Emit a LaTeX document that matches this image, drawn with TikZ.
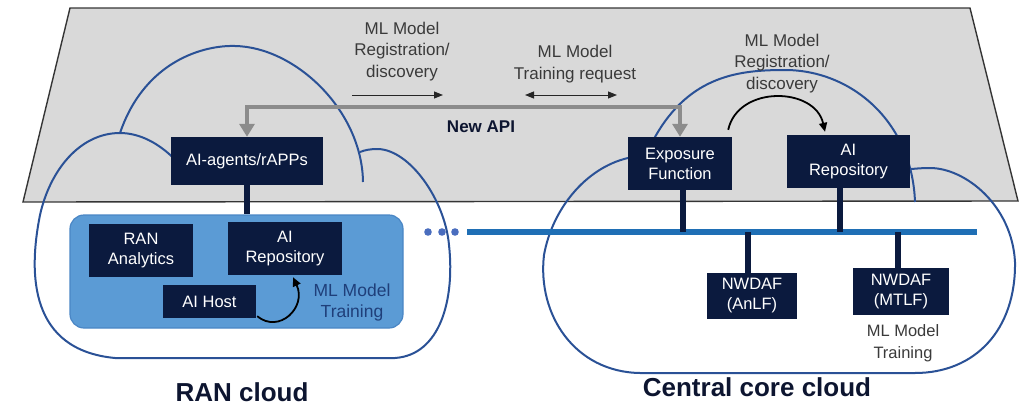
\documentclass[tikz,border=0pt]{standalone}
\usepackage{fontspec}
\setmainfont{Liberation Sans}
\usetikzlibrary{arrows.meta}

\definecolor{panelfill}{HTML}{D9D9D9}
\definecolor{paneledge}{HTML}{353535}
\definecolor{cloudblue}{HTML}{2A5196}
\definecolor{navy}{HTML}{0B1A3E}
\definecolor{innerfill}{HTML}{5B9BD5}
\definecolor{inneredge}{HTML}{4A86C5}
\definecolor{busblue}{HTML}{1F6FB5}
\definecolor{dotblue}{HTML}{4A6DBE}
\definecolor{apigray}{HTML}{8C8C8C}
\definecolor{labelgray}{HTML}{3A3A3A}
\definecolor{traindark}{HTML}{1F3F7A}
\definecolor{titledark}{HTML}{0D1530}

\begin{document}
\begin{tikzpicture}[x=1pt,y=-1pt,
  fnbox/.style={fill=navy, text=white, inner sep=0pt, align=center,
    font=\fontsize{16.5}{20}\selectfont},
  cloudline/.style={draw=cloudblue, line width=2pt},
  link/.style={draw=navy, line width=5.5pt},
  busline/.style={draw=busblue, line width=6.5pt},
  apiline/.style={draw=apigray, line width=4.5pt, line join=miter,
    {Triangle[width=15pt,length=13pt]}-{Triangle[width=15pt,length=13pt]}},
  flowarrow/.style={draw=black!85, line width=1pt},
  bendarrow/.style={draw=black, line width=1.8pt, -{Triangle[width=8pt,length=9pt]}},
  paneltext/.style={align=center, text=labelgray, inner sep=0pt,
    font=\fontsize{17}{21.5}\selectfont},
  titletext/.style={text=titledark, inner sep=0pt,
    font=\bfseries\fontsize{26}{30}\selectfont}
]
\useasboundingbox (0,0) rectangle (1020,407);

% shared plane for the new API
\draw[draw=paneledge, fill=panelfill, line width=1.4pt]
  (70,8) -- (970,8) -- (1018,201) -- (23,202) -- cycle;

% RAN cloud outline
\draw[cloudline] (180,165) .. controls (160,142) and (138,133) .. (120,133)
  .. controls (80,133) and (50,170) .. (40,215)
  .. controls (28,275) and (30,350) .. (115,358)
  -- (395,358)
  .. controls (440,355) and (455,300) .. (449,245)
  .. controls (445,200) and (410,150) .. (378,149)
  .. controls (370,149) and (365,150) .. (360,152);
\draw[cloudline] (120,133) .. controls (145,60) and (205,45) .. (235,46)
  .. controls (295,47) and (362,110) .. (363,182);

% central core cloud outline
\draw[cloudline] (640,157) -- (628,158)
  .. controls (585,168) and (552,210) .. (544,255)
  .. controls (537,315) and (575,372) .. (640,373)
  -- (915,373)
  .. controls (975,373) and (1016,330) .. (1015,262)
  .. controls (1012,205) and (965,168) .. (930,168)
  .. controls (920,168) and (912,169) .. (900,170);
\draw[cloudline] (650,150) -- (655,137) .. controls (690,75) and (740,70) .. (785,70)
  .. controls (850,70) and (912,120) .. (915,202);

% RAN cloud contents
\node[draw=inneredge, fill=innerfill, rounded corners=14pt, line width=1.2pt,
  minimum width=333pt, minimum height=113pt, inner sep=0pt] (ranbox) at (236.5,271.5) {};
\node[fnbox, minimum width=152pt, minimum height=48pt] (agents) at (247,161) {AI-agents/rAPPs};
\node[fnbox, minimum width=104pt, minimum height=53pt] (ranana) at (141,250.5) {RAN\\Analytics};
\node[fnbox, minimum width=114pt, minimum height=53pt] (ranrepo) at (285,248.5) {AI\\Repository};
\node[fnbox, minimum width=93pt, minimum height=33pt] (aihost) at (209.5,301.5) {AI Host};
\node[align=center, text=traindark, inner sep=0pt, font=\fontsize{17.5}{21}\selectfont]
  (rantrain) at (352,302.5) {ML Model\\Training};

% central core contents
\node[fnbox, minimum width=104pt, minimum height=53pt] (expo) at (680,163.5) {Exposure\\Function};
\node[fnbox, minimum width=123pt, minimum height=53pt] (corerepo) at (848.5,161.5) {AI\\Repository};
\node[fnbox, minimum width=90pt, minimum height=46pt] (anlf) at (752,296) {NWDAF\\(AnLF)};
\node[fnbox, minimum width=96pt, minimum height=47pt] (mtlf) at (901,291.5) {NWDAF\\(MTLF)};
\node[paneltext, font=\fontsize{16.5}{22}\selectfont] (coretrain) at (903,343.5) {ML Model\\Training};

% service bus and attachments
\coordinate (busL) at (467,232);
\coordinate (busR) at (977,232);
\fill[dotblue] (428,232) circle (3.8pt);
\fill[dotblue] (442,232) circle (3.8pt);
\fill[dotblue] (455,232) circle (3.8pt);
\draw[busline] (busL) -- (busR);
\draw[link] (agents.south) -- (agents.south |- ranbox.north);
\draw[link] ([xshift=3pt]expo.south) -- ([xshift=3pt]expo.south |- busL);
\draw[link] ([xshift=-8.5pt]corerepo.south) -- ([xshift=-8.5pt]corerepo.south |- busL);
\draw[link] ([xshift=-4pt]anlf.north) -- ([xshift=-4pt]anlf.north |- busL);
\draw[link] ([xshift=-3pt]mtlf.north) -- ([xshift=-3pt]mtlf.north |- busL);

% new API between the two clouds
\coordinate (apiy) at (0,107);
\draw[apiline] (agents.north) -- (agents.north |- apiy) -- (expo.north |- apiy) -- (expo.north);

% flow arrows and their labels
\coordinate (regS) at (352,95);
\coordinate (regE) at (443,95);
\coordinate (trS) at (525,95);
\coordinate (trE) at (617,95);
\draw[flowarrow, -{Triangle[width=7pt,length=9pt]}] (regS) -- (regE);
\draw[flowarrow, {Triangle[width=7pt,length=9pt]}-{Triangle[width=7pt,length=9pt]}] (trS) -- (trE);
\node[paneltext] (reglbl) at (402,51.5) {ML Model\\Registration/\\discovery};
\node[paneltext] (trlbl) at (575,64) {ML Model\\Training request};
\node[paneltext] (reglbl2) at (782,63.5) {ML Model\\Registration/\\discovery};
\node[text=titledark, inner sep=0pt, font=\bfseries\fontsize{17}{20}\selectfont] (apilbl) at (481,127) {New API};

% registration inside the core and training inside the RAN
\draw[bendarrow] ([xshift=-4pt,yshift=7pt]expo.north east)
  .. controls +(10,-45) and +(-10,-45) .. ([xshift=-23.5pt,yshift=3pt]corerepo.north);
\draw[bendarrow] ([xshift=1pt,yshift=2pt]aihost.south east)
  .. controls +(22,18) and +(14,30) .. ([xshift=8pt,yshift=-2pt]ranrepo.south);

% cloud titles
\node[titletext] (rantitle) at (242,392.5) {RAN cloud};
\node[titletext] (coretitle) at (757,387.5) {Central core cloud};
\end{tikzpicture}
\end{document}
